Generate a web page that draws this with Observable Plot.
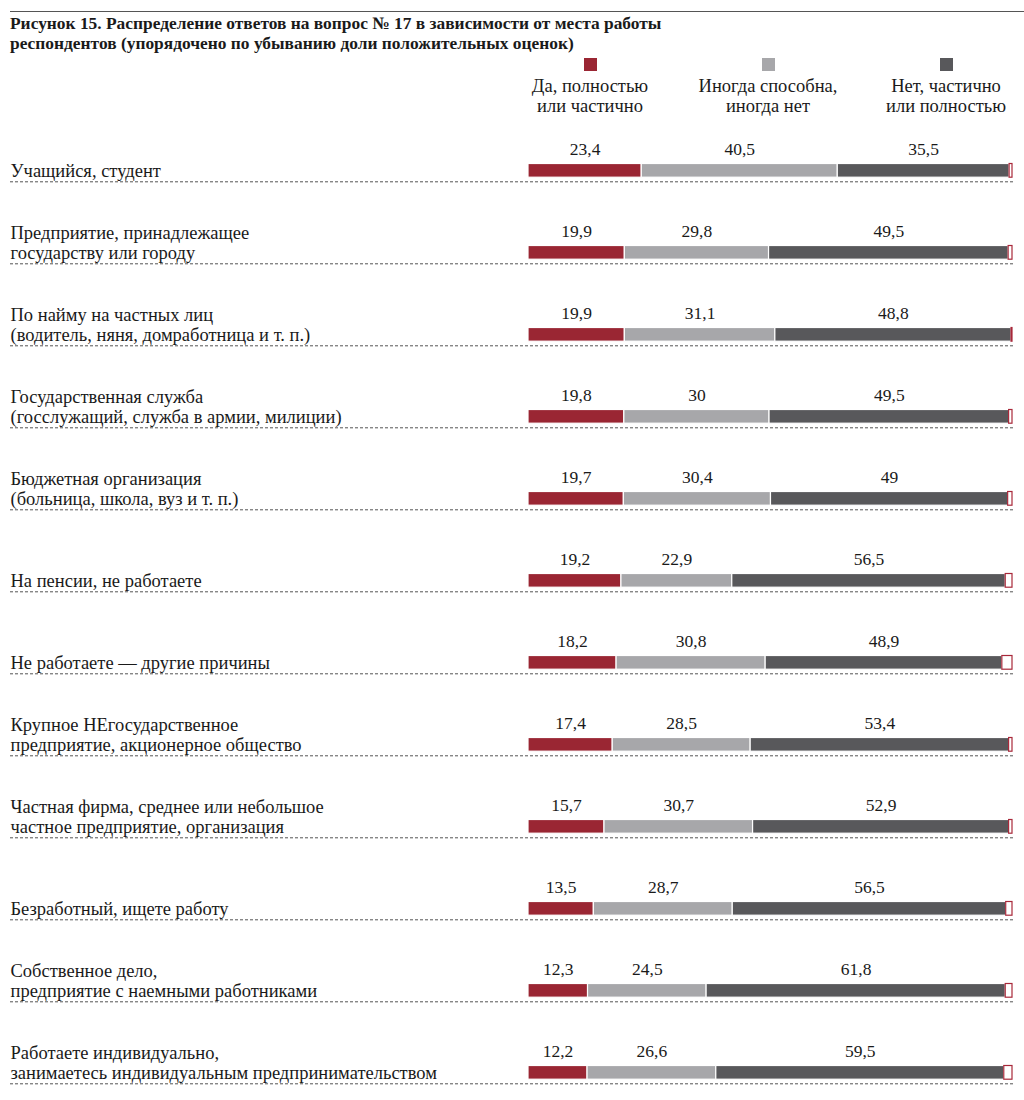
<!DOCTYPE html>
<html><head><meta charset="utf-8">
<script src="https://cdn.jsdelivr.net/npm/d3@7"></script>
<script src="https://cdn.jsdelivr.net/npm/@observablehq/plot@0.6"></script>
<style>
body{margin:0;background:#fff;font-family:"Liberation Serif",serif;color:#1a1a1a}
#wrap{position:relative;width:1024px}
#head{position:relative;height:120px}
#rule{position:absolute;left:10px;right:0;top:11px;border-top:1px solid #555}
#title{position:absolute;left:10px;top:13px;font-weight:bold;font-size:17.4px;line-height:20px;white-space:nowrap}
.leg{position:absolute;top:58px;width:220px;margin-left:-110px;text-align:center;font-size:18.5px;line-height:20px}
.sw{width:13px;height:13px;margin:0 auto 5px}
svg{display:block}
</style></head><body>
<div id="wrap">
<div id="head">
<div id="rule"></div>
<div id="title"></div>
<div id="legend"></div>
</div>
<div id="chart"></div>
</div>
<script>
const titleLines = ["Рисунок 15. Распределение ответов на вопрос № 17 в зависимости от места работы",
  "респондентов (упорядочено по убыванию доли положительных оценок)"];
const categories = [
  "Учащийся, студент",
  "Предприятие, принадлежащее\nгосударству или городу",
  "По найму на частных лиц\n(водитель, няня, домработница и т. п.)",
  "Государственная служба\n(госслужащий, служба в армии, милиции)",
  "Бюджетная организация\n(больница, школа, вуз и т. п.)",
  "На пенсии, не работаете",
  "Не работаете — другие причины",
  "Крупное НЕгосударственное\nпредприятие, акционерное общество",
  "Частная фирма, среднее или небольшое\nчастное предприятие, организация",
  "Безработный, ищете работу",
  "Собственное дело,\nпредприятие с наемными работниками",
  "Работаете индивидуально,\nзанимаетесь индивидуальным предпринимательством"
];
const yes = [23.4, 19.9, 19.9, 19.8, 19.7, 19.2, 18.2, 17.4, 15.7, 13.5, 12.3, 12.2];
const sometimes = [40.5, 29.8, 31.1, 30, 30.4, 22.9, 30.8, 28.5, 30.7, 28.7, 24.5, 26.6];
const no = [35.5, 49.5, 48.8, 49.5, 49, 56.5, 48.9, 53.4, 52.9, 56.5, 61.8, 59.5];
const hardToSay = [0.6, 0.8, 0.2, 0.7, 0.9, 1.4, 2.1, 0.7, 0.7, 1.3, 1.4, 1.7];
const series = ["Да, полностью\nили частично", "Иногда способна,\nиногда нет", "Нет, частично\nили полностью", "Затрудняюсь ответить"];
const colors = ["#9a2633", "#a7a7aa", "#58585b", "#ffffff"];
const legendX = [590, 768, 946];

document.getElementById("title").innerHTML = titleLines.join("<br>");
const leg = document.getElementById("legend");
series.slice(0, 3).forEach((s, i) => {
  const d = document.createElement("div");
  d.className = "leg";
  d.style.left = legendX[i] + "px";
  d.innerHTML = `<div class="sw" style="background:${colors[i]}"></div>` + s.replace("\n", "<br>");
  leg.appendChild(d);
});

const valuesBySeries = [yes, sometimes, no, hardToSay];
const rows = categories.flatMap((c, i) => series.map((s, k) => ({cat: c, s, v: valuesBySeries[k][i]})));
const fmt = v => String(v).replace(".", ",");
const step = 82.27;

const chart = Plot.plot({
  width: 1024, height: 980,
  marginLeft: 10, marginRight: 11, marginTop: 0, marginBottom: 0,
  x: {domain: [0, 100], range: [528, 1012], axis: null},
  y: {domain: categories, range: [0, categories.length * step], padding: 0, axis: null},
  color: {domain: series, range: colors},
  style: {fontFamily: "Liberation Serif", fontSize: "16px", color: "#1a1a1a", background: "white"},
  marks: [
    Plot.ruleY(categories, {y: d => d, dy: 18.3, stroke: "#555", strokeDasharray: "3,2"}),
    Plot.barX(rows, Plot.stackX({x: "v", y: "cat", fill: "s", order: series,
      stroke: d => d.s === series[3] ? "#a8283a" : "white", strokeWidth: 1.2,
      insetTop: 41.5, insetBottom: 26.8})),
    Plot.text(rows.filter(d => d.s !== series[3]), Plot.stackX({x: "v", y: "cat", z: "s", order: series,
      text: d => fmt(d.v), dy: -14, fontSize: 17.5, fill: "#1a1a1a"})),
    Plot.text(categories, {y: d => d, text: d => d, frameAnchor: "left", textAnchor: "start",
      lineAnchor: "bottom", lineHeight: 1.08, fontSize: 18.5, dy: 13.4, fill: "#1a1a1a"})
  ]
});
document.getElementById("chart").appendChild(chart);
</script>
</body></html>
